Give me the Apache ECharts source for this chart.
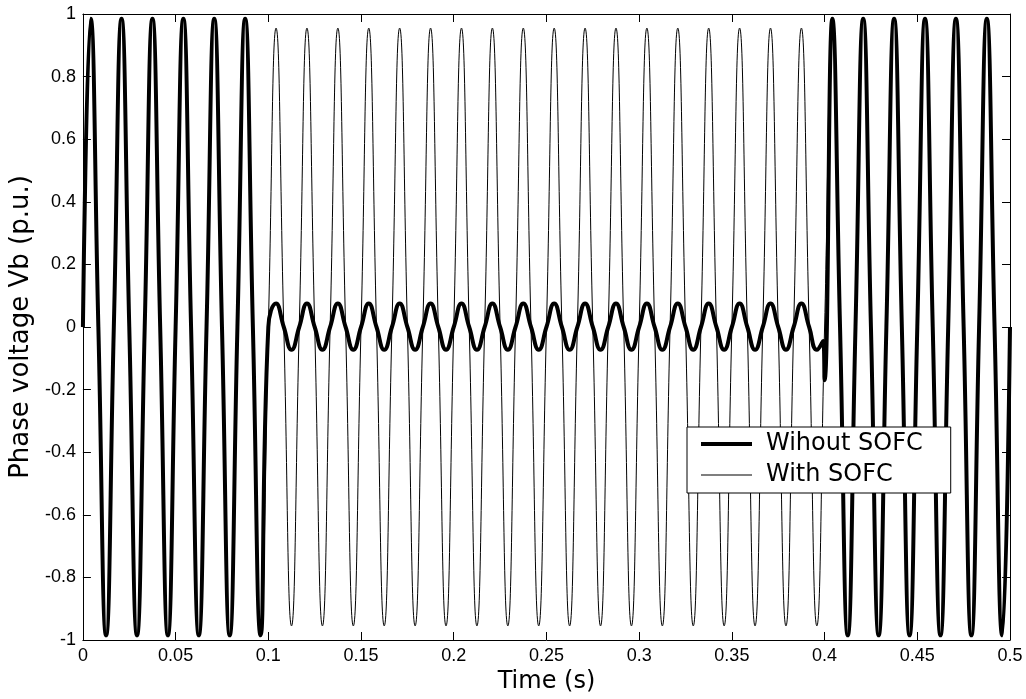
<!DOCTYPE html>
<html>
<head>
<meta charset="utf-8">
<script src="https://cdn.jsdelivr.net/npm/echarts@6/dist/echarts.min.js"></script>
<style>
html,body{margin:0;padding:0;background:#fff;}
#chart{width:1026px;height:699px;}
</style>
</head>
<body>
<div id="chart"></div>
<script>
// Time samples (s): peaks, troughs and zero crossings of the 60 Hz waveform
const timeS = [
  0, 0.00417, 0.00833, 0.0125, 0.01667, 0.02083, 0.025, 0.02917, 0.03333, 0.0375, 0.04167, 0.04583,
  0.05, 0.05417, 0.05833, 0.0625, 0.06667, 0.07083, 0.075, 0.07917, 0.08333, 0.0875, 0.09167, 0.09583,
  0.1, 0.10417, 0.10833, 0.1125, 0.11667, 0.12083, 0.125, 0.12917, 0.13333, 0.1375, 0.14167, 0.14583,
  0.15, 0.15417, 0.15833, 0.1625, 0.16667, 0.17083, 0.175, 0.17917, 0.18333, 0.1875, 0.19167, 0.19583,
  0.2, 0.20417, 0.20833, 0.2125, 0.21667, 0.22083, 0.225, 0.22917, 0.23333, 0.2375, 0.24167, 0.24583,
  0.25, 0.25417, 0.25833, 0.2625, 0.26667, 0.27083, 0.275, 0.27917, 0.28333, 0.2875, 0.29167, 0.29583,
  0.3, 0.30417, 0.30833, 0.3125, 0.31667, 0.32083, 0.325, 0.32917, 0.33333, 0.3375, 0.34167, 0.34583,
  0.35, 0.35417, 0.35833, 0.3625, 0.36667, 0.37083, 0.375, 0.37917, 0.38333, 0.3875, 0.39167, 0.39583,
  0.4, 0.40417, 0.40833, 0.4125, 0.41667, 0.42083, 0.425, 0.42917, 0.43333, 0.4375, 0.44167, 0.44583,
  0.45, 0.45417, 0.45833, 0.4625, 0.46667, 0.47083, 0.475, 0.47917, 0.48333, 0.4875, 0.49167, 0.49583,
  0.5
];

// Phase voltage Vb (p.u.) without SOFC
const withoutSOFC = [
  0, 0.985, 0, -0.985, 0, 0.985, 0, -0.985, 0, 0.985, 0, -0.985,
  0, 0.985, 0, -0.985, 0, 0.985, 0, -0.985, 0, 0.985, 0, -0.985,
  0, 0.075, 0, -0.073, 0, 0.075, 0, -0.073, 0, 0.075, 0, -0.073,
  0, 0.075, 0, -0.073, 0, 0.075, 0, -0.073, 0, 0.075, 0, -0.073,
  0, 0.075, 0, -0.073, 0, 0.075, 0, -0.073, 0, 0.075, 0, -0.073,
  0, 0.075, 0, -0.073, 0, 0.075, 0, -0.073, 0, 0.075, 0, -0.073,
  0, 0.075, 0, -0.073, 0, 0.075, 0, -0.073, 0, 0.075, 0, -0.073,
  0, 0.075, 0, -0.073, 0, 0.075, 0, -0.073, 0, 0.075, 0, -0.073,
  -0.17, 0.985, 0, -0.985, 0, 0.985, 0, -0.985, 0, 0.985, 0, -0.985,
  0, 0.985, 0, -0.985, 0, 0.985, 0, -0.985, 0, 0.985, 0, -0.985,
  0
];
// Extra reading at the fault clearing instant (just before the step down at 0.4 s)
const withoutSOFCExtra = [[0.3992, -0.045]];

// Phase voltage Vb (p.u.) with SOFC
const withSOFC = [
  0, 0.985, 0, -0.985, 0, 0.985, 0, -0.985, 0, 0.985, 0, -0.985,
  0, 0.985, 0, -0.985, 0, 0.985, 0, -0.985, 0, 0.985, 0, -0.985,
  0, 0.955, 0, -0.955, 0, 0.955, 0, -0.955, 0, 0.955, 0, -0.955,
  0, 0.955, 0, -0.955, 0, 0.955, 0, -0.955, 0, 0.955, 0, -0.955,
  0, 0.955, 0, -0.955, 0, 0.955, 0, -0.955, 0, 0.955, 0, -0.955,
  0, 0.955, 0, -0.955, 0, 0.955, 0, -0.955, 0, 0.955, 0, -0.955,
  0, 0.955, 0, -0.955, 0, 0.955, 0, -0.955, 0, 0.955, 0, -0.955,
  0, 0.955, 0, -0.955, 0, 0.955, 0, -0.955, 0, 0.955, 0, -0.955,
  0, 0.985, 0, -0.985, 0, 0.985, 0, -0.985, 0, 0.985, 0, -0.985,
  0, 0.985, 0, -0.985, 0, 0.985, 0, -0.985, 0, 0.985, 0, -0.985,
  0
];

const seriesNames = ['Wihout SOFC', 'With SOFC'];
const xAxisName = 'Time (s)';
const yAxisName = 'Phase voltage Vb (p.u.)';

const pairs = (vals) => timeS.map((t, i) => [t, vals[i]]);
const thickData = pairs(withoutSOFC).concat(withoutSOFCExtra).sort((a, b) => a[0] - b[0]);

const chart = echarts.init(document.getElementById('chart'), null, {renderer: 'canvas'});

const tickFont = {fontFamily: 'Liberation Sans, Arial, sans-serif', fontSize: 18, color: '#000'};
const titleFont = {fontFamily: 'DejaVu Sans, sans-serif', fontSize: 24, color: '#000'};

const frameAxis = {
  axisLine: {show: true, onZero: false, lineStyle: {color: '#000', width: 1}},
  axisTick: {show: true, inside: true, length: 8, lineStyle: {color: '#000', width: 1}},
  splitLine: {show: false}
};

chart.setOption({
  animation: false,
  backgroundColor: '#fff',
  grid: {left: 80, right: 16, top: 14, bottom: 58, containLabel: false},
  xAxis: [
    Object.assign({}, frameAxis, {
      type: 'value', min: 0, max: 0.5, interval: 0.05, position: 'bottom',
      axisLabel: Object.assign({margin: 7}, tickFont),
      name: xAxisName, nameLocation: 'middle', nameGap: 30,
      nameTextStyle: titleFont
    }),
    Object.assign({}, frameAxis, {
      type: 'value', min: 0, max: 0.5, interval: 0.05, position: 'top',
      axisLabel: {show: false}
    })
  ],
  yAxis: [
    Object.assign({}, frameAxis, {
      type: 'value', min: -1, max: 1, interval: 0.2, position: 'left',
      axisLabel: Object.assign({margin: 7}, tickFont),
      name: yAxisName, nameLocation: 'middle', nameGap: 45,
      nameTextStyle: Object.assign({}, titleFont, {fontSize: 26})
    }),
    Object.assign({}, frameAxis, {
      type: 'value', min: -1, max: 1, interval: 0.2, position: 'right',
      axisLabel: {show: false}
    })
  ],
  legend: {
    left: 687, top: 427, orient: 'vertical',
    itemWidth: 51, itemHeight: 14, itemGap: 7,
    padding: [5, 28, 6, 14],
    backgroundColor: '#fff', borderColor: '#000', borderWidth: 1, borderRadius: 0,
    textStyle: Object.assign({padding: [0, 0, 0, 9]}, titleFont),
    data: [
      {name: seriesNames[0], icon: 'path://M0,0 L51,0 L51,4 L0,4 Z', itemStyle: {color: '#000', borderWidth: 0}},
      {name: seriesNames[1], icon: 'path://M0,0 L51,0 L51,1 L0,1 Z', itemStyle: {color: '#000', borderWidth: 0}}
    ]
  },
  series: [
    {
      name: seriesNames[0], type: 'line', xAxisIndex: 0, yAxisIndex: 0,
      data: thickData, smooth: true, symbol: 'none', showSymbol: false,
      lineStyle: {color: '#000', width: 4}, itemStyle: {color: '#000'}, z: 2
    },
    {
      name: seriesNames[1], type: 'line', xAxisIndex: 0, yAxisIndex: 0,
      data: pairs(withSOFC), smooth: true, symbol: 'none', showSymbol: false,
      lineStyle: {color: '#000', width: 1}, itemStyle: {color: '#000'}, z: 3
    }
  ]
});
</script>
</body>
</html>
